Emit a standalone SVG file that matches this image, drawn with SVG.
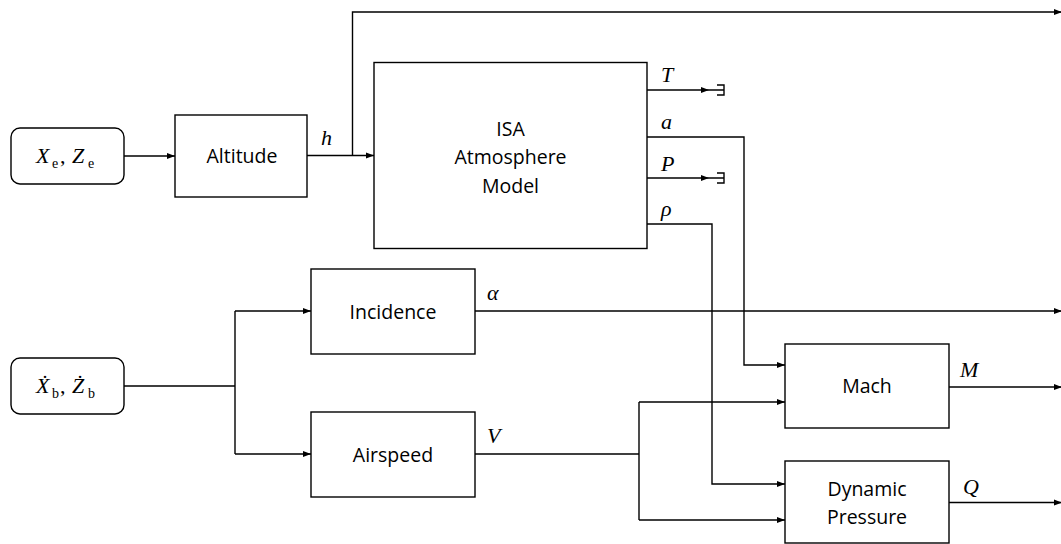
<svg xmlns="http://www.w3.org/2000/svg" width="1061" height="544" viewBox="0 0 1061 544">
<defs>
<marker id="arr" markerWidth="9" markerHeight="8" refX="8" refY="4" orient="auto" markerUnits="userSpaceOnUse">
<path d="M0,1 L8,4 L0,7 Z" fill="#000"/>
</marker>
<style>
.box{fill:#fff;stroke:#000;stroke-width:1.4}
.lbl{font-family:"Open Sans","Liberation Sans",sans-serif;font-size:19.5px;fill:#000;text-anchor:middle}
.m{font-family:"Liberation Serif","DejaVu Serif",serif;font-style:italic;font-size:22px;fill:#000}
.subs{font-family:"Liberation Serif","DejaVu Serif",serif;font-style:normal;font-size:14px}
.c{fill:none;stroke:#000;stroke-width:1.4}
.a{marker-end:url(#arr)}
</style>
</defs>
<rect width="1061" height="544" fill="#fff"/>

<g id="connectors">
<path class="c a" d="M124,156 H175"/>
<path class="c a" d="M307,155.5 H374"/>
<path class="c a" d="M352.5,155.5 V12 H1062"/>
<path class="c a" d="M647,90 H709"/>
<path class="c" d="M709,90 H724 M717,85 H724 V95 H717"/>
<path class="c a" d="M647,137 H744 V365 H785"/>
<path class="c a" d="M647,178 H709"/>
<path class="c" d="M709,178 H724 M717,173 H724 V183 H717"/>
<path class="c a" d="M647,224 H712 V484 H785"/>
<path class="c" d="M124,386 H235 M235,311 V454"/>
<path class="c a" d="M235,311 H311"/>
<path class="c a" d="M235,454 H311"/>
<path class="c a" d="M475,311 H1062"/>
<path class="c" d="M475,454 H639 M639,402 V520"/>
<path class="c a" d="M639,402 H785"/>
<path class="c a" d="M639,520 H785"/>
<path class="c a" d="M949,387 H1062"/>
<path class="c a" d="M949,502.5 H1062"/>
</g>

<g id="labels">
<text class="m" x="321" y="145">h</text>
<text class="m" x="661" y="82">T</text>
<text class="m" x="661" y="129">a</text>
<text class="m" x="661" y="171">P</text>
<text class="m" x="661" y="216">ρ</text>
<text class="m" x="487" y="300">α</text>
<text class="m" x="487" y="443">V</text>
<text class="m" x="960" y="377">M</text>
<text class="m" x="963" y="494">Q</text>
</g>

<g id="xe-ze">
<rect class="box" x="11" y="128" width="113" height="56" rx="9"/>
<text class="m" x="36" y="163">X<tspan class="subs" x="52" dy="5">e</tspan><tspan x="60" dy="-5" style="font-style:normal">,</tspan><tspan x="72">Z</tspan><tspan class="subs" x="88" dy="5">e</tspan></text>
</g>

<g id="altitude">
<rect class="box" x="175" y="115" width="132" height="82"/>
<text class="lbl" x="242" y="163">Altitude</text>
</g>

<g id="isa">
<rect class="box" x="374" y="62.5" width="273" height="186"/>
<text class="lbl" x="510.5" y="136">ISA</text>
<text class="lbl" x="510.5" y="164">Atmosphere</text>
<text class="lbl" x="510.5" y="193">Model</text>
</g>

<g id="xb-zb">
<rect class="box" x="11" y="358" width="113" height="56" rx="9"/>
<text class="m" x="36" y="393">Ẋ<tspan class="subs" x="52" dy="5">b</tspan><tspan x="60" dy="-5" style="font-style:normal">,</tspan><tspan x="72">Ż</tspan><tspan class="subs" x="88" dy="5">b</tspan></text>
</g>

<g id="incidence">
<rect class="box" x="311" y="269" width="164" height="85"/>
<text class="lbl" x="393" y="319">Incidence</text>
</g>

<g id="airspeed">
<rect class="box" x="311" y="412" width="164" height="85"/>
<text class="lbl" x="393" y="462">Airspeed</text>
</g>

<g id="mach">
<rect class="box" x="785" y="344" width="164" height="84"/>
<text class="lbl" x="867" y="393">Mach</text>
</g>

<g id="dynamic-pressure">
<rect class="box" x="785" y="461" width="164" height="82"/>
<text class="lbl" x="867" y="496">Dynamic</text>
<text class="lbl" x="867" y="524">Pressure</text>
</g>
</svg>
